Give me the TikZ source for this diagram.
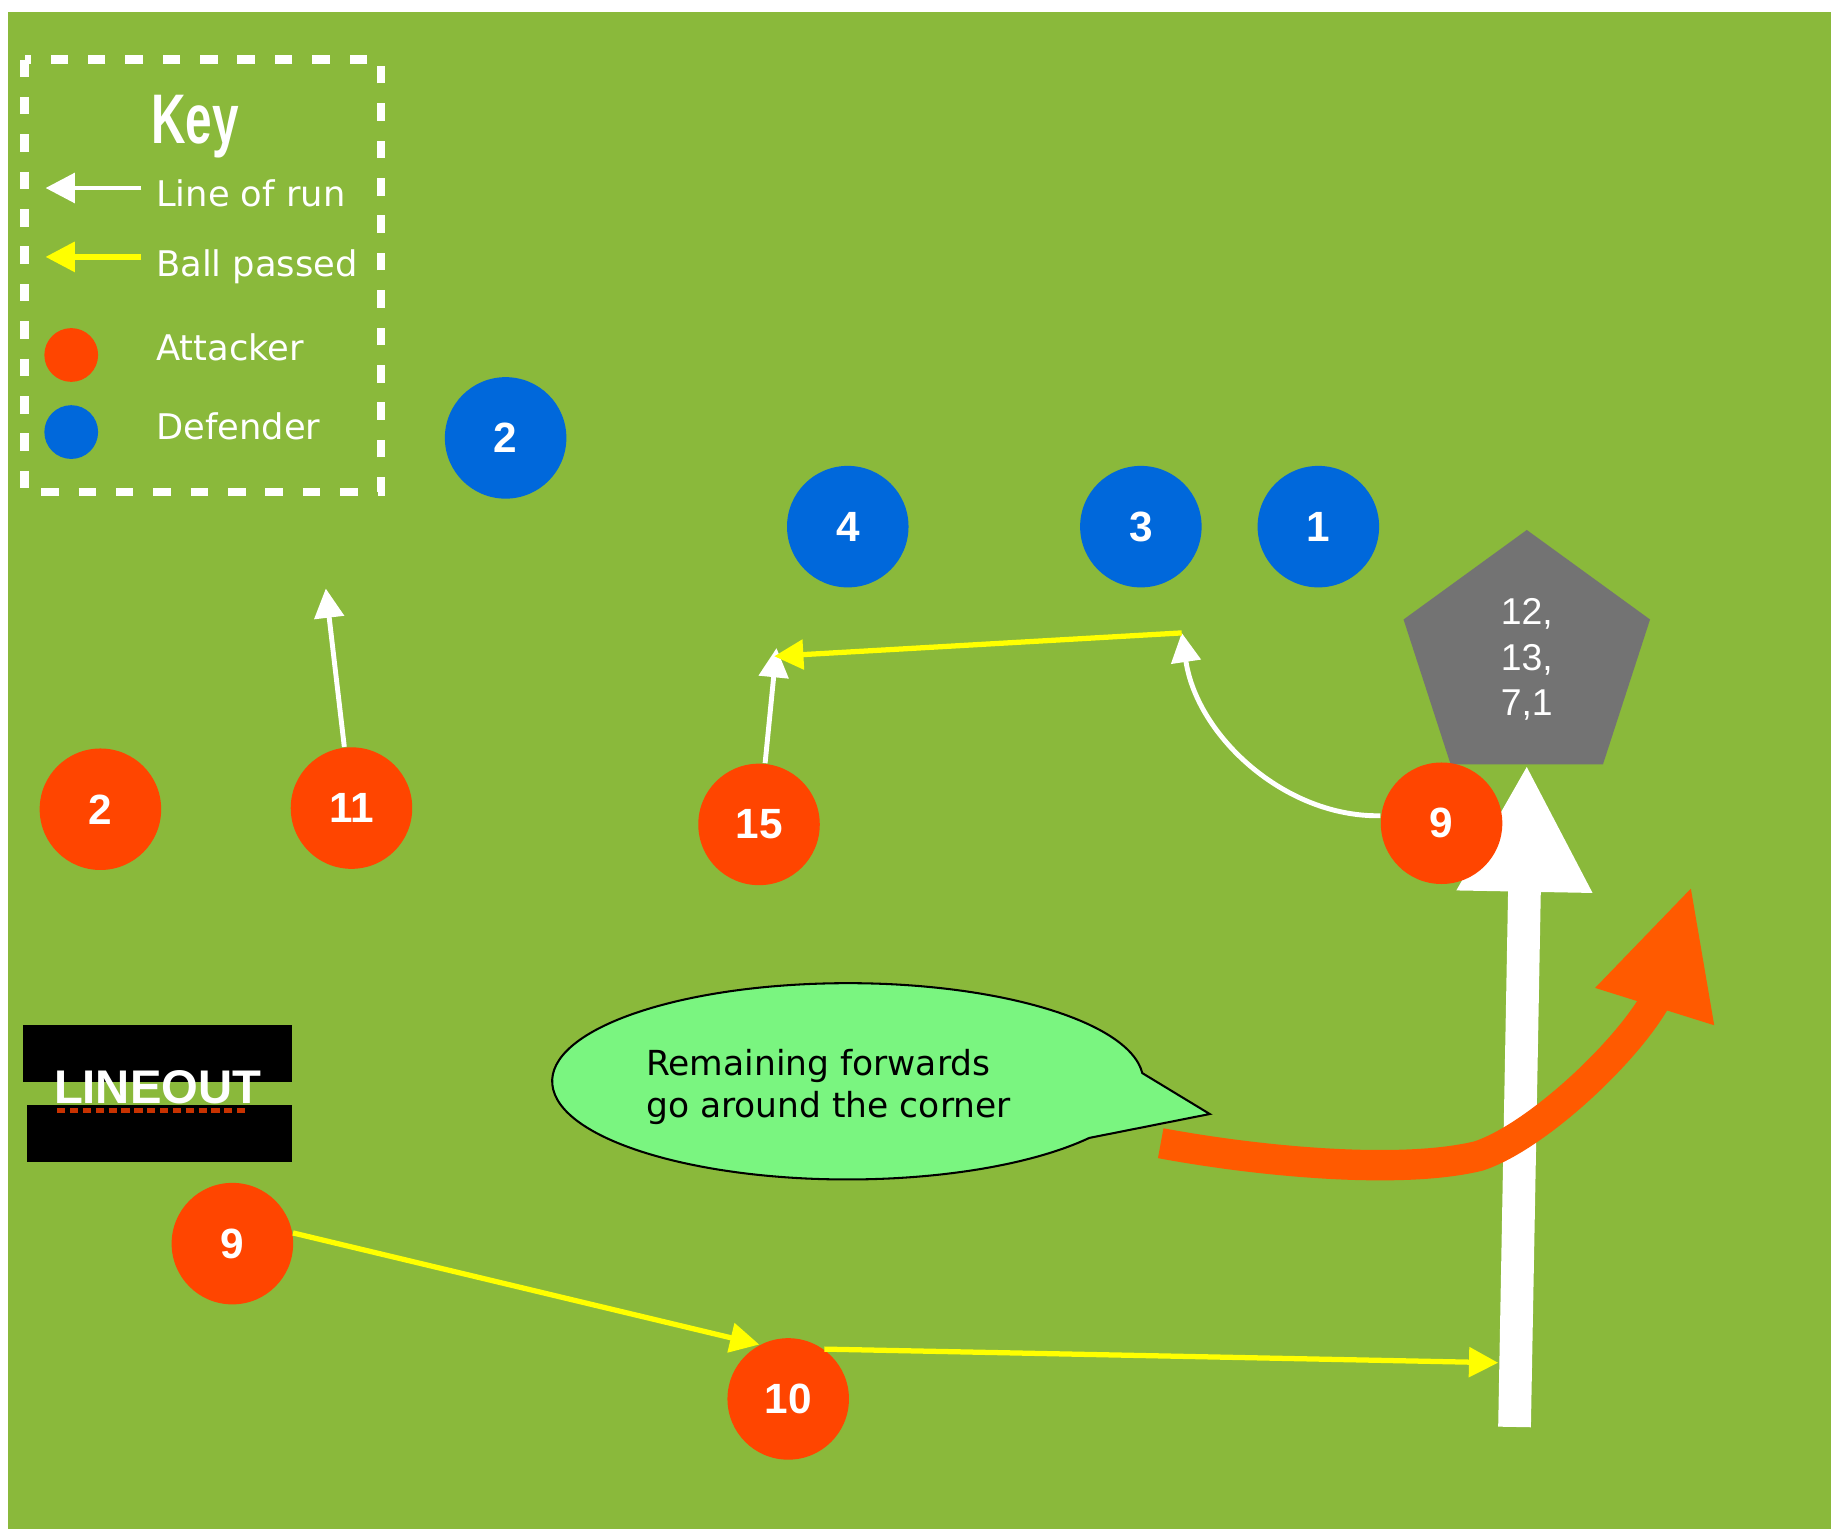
\documentclass[tikz,border=0pt]{standalone}
\usepackage{fontspec}
\usepackage{graphicx}
\setmainfont{Liberation Sans}
\newfontfamily\handfont{DejaVu Sans}
\usetikzlibrary{arrows.meta,shapes.geometric,shapes.callouts}

\definecolor{pitch}{HTML}{8AB93B}
\definecolor{attackred}{HTML}{FF4500}
\definecolor{defendblue}{HTML}{0068DB}
\definecolor{passyellow}{HTML}{FFFF00}
\definecolor{bubblegreen}{HTML}{7AF580}
\definecolor{loopred}{HTML}{FF5A00}
\definecolor{packgray}{HTML}{737373}
\definecolor{spellred}{HTML}{C83200}

\tikzset{
  player/.style={circle, inner sep=0pt, minimum size=1.04cm, text=white,
    font=\fontsize{10.3}{12}\selectfont\bfseries},
  attacker/.style={player, fill=attackred},
  defender/.style={player, fill=defendblue},
  keydot/.style={circle, inner sep=0pt, minimum size=0.46cm},
  keylabel/.style={anchor=base west, inner sep=0pt, text=white, font=\handfont\fontsize{8.6}{10}\selectfont},
  runline/.style={white, line width=0.042cm, -{Triangle[width=0.25cm, length=0.25cm]}},
  passline/.style={passyellow, line width=0.045cm, -{Triangle[width=0.25cm, length=0.25cm]}},
}

\begin{document}
\begin{tikzpicture}[x=0.01cm, y=-0.01cm]
\fill[white] (0,0) rectangle (1568,1309);
\fill[pitch] (7,10) rectangle (1568,1309);

% key
\draw[white, line width=0.07cm, dash pattern=on 0.15cm off 0.17cm] (21,51) rectangle (326,421);
\node[anchor=base, text=white, font=\fontsize{17.1}{20}\selectfont\bfseries] (keytitle) at (167,122.5) {\scalebox{0.68}[1]{Key}};
\coordinate (runtail) at (121,161);
\coordinate (runtip) at (39,161);
\coordinate (passtail) at (121,220);
\coordinate (passtip) at (39,220);
\draw[runline] (runtail) -- (runtip);
\draw[passline] (passtail) -- (passtip);
\node[keylabel] (keyrun) at (133,177) {Line of run};
\node[keylabel] (keypass) at (133,237) {Ball passed};
\node[keydot, fill=attackred] (keyattdot) at (61,304) {};
\node[keydot, fill=defendblue] (keydefdot) at (61,370) {};
\node[keylabel] (keyatt) at (133,309) {Attacker};
\node[keylabel] (keydef) at (133,376) {Defender};

% lineout
\fill[black] (20,878) rectangle (250,927);
\fill[black] (23,946) rectangle (250,995);
\node[anchor=base, text=white, font=\fontsize{11.5}{13}\selectfont\bfseries] (lineout) at (135,945) {LINEOUT};
\draw[spellred, line width=0.045cm, dash pattern=on 0.07cm off 0.04cm] (49,951) -- (213,951);

% forwards at the corner
\node[regular polygon, regular polygon sides=5, fill=packgray, minimum size=2.218cm, inner sep=0pt, outer sep=0pt,
  text=white, align=center, font=\fontsize{9.1}{11.15}\selectfont] (pack) at (1307.5,564.8) {12,\\13,\\7,1};
\coordinate (bigtail) at (1297,1222);
\draw[white, line width=0.28cm, -{Triangle[width=1.08cm, length=1.09cm]}] (bigtail) -- (pack.side 3);

% players
\node[defender] (d2) at (433,375) {2};
\node[defender] (d4) at (726,451) {4};
\node[defender] (d3) at (977,451) {3};
\node[defender] (d1) at (1129,451) {1};
\node[attacker] (a2) at (86,693) {2};
\node[attacker] (a11) at (301,692) {11};
\node[attacker] (a15) at (650,706) {15};
\node[attacker] (a9late) at (1234.5,705) {9};
\node[attacker] (a9) at (199,1065) {9};
\node[attacker] (a10) at (675,1198) {10};

% runs and passes
\coordinate (run11) at (279,504);
\coordinate (run15) at (665,555);
\coordinate (run9) at (1012,542);
\coordinate (catch15) at (663,562);
\coordinate (catchwing) at (1283,1167);
\draw[runline] (a11) -- (run11);
\draw[runline] (a15) -- (run15);
\draw[runline] (a9late.173) .. controls (1100,700) and (1025,630) .. (run9);
\draw[passline] (run9) -- (catch15);
\draw[passline] (a9.10) -- (a10.118);
\draw[passline] (a10.54) -- (catchwing);

% remaining forwards
\node[ellipse callout, fill=bubblegreen, draw=black, line width=0.5pt, minimum width=5.06cm, minimum height=1.68cm,
  inner sep=0pt, callout absolute pointer={(1036,954)}, callout pointer arc=40,
  font=\handfont\fontsize{8.4}{10.2}\selectfont, align=left] (bubble) at (726,926)
  {\rule{0pt}{9.3pt}Remaining forwards\\go around the corner\hspace*{0.33cm}};
\coordinate (loopstart) at (994,979);
\coordinate (loopend) at (1418,856);
\draw[loopred, line width=0.26cm] (loopstart) .. controls (1080,995) and (1200,1006) .. (1266,990)
  .. controls (1315,974) and (1392,902) .. (loopend);
\fill[loopred] (1448,761) -- (1468,878) -- (1366,846) -- cycle;
\end{tikzpicture}
\end{document}
